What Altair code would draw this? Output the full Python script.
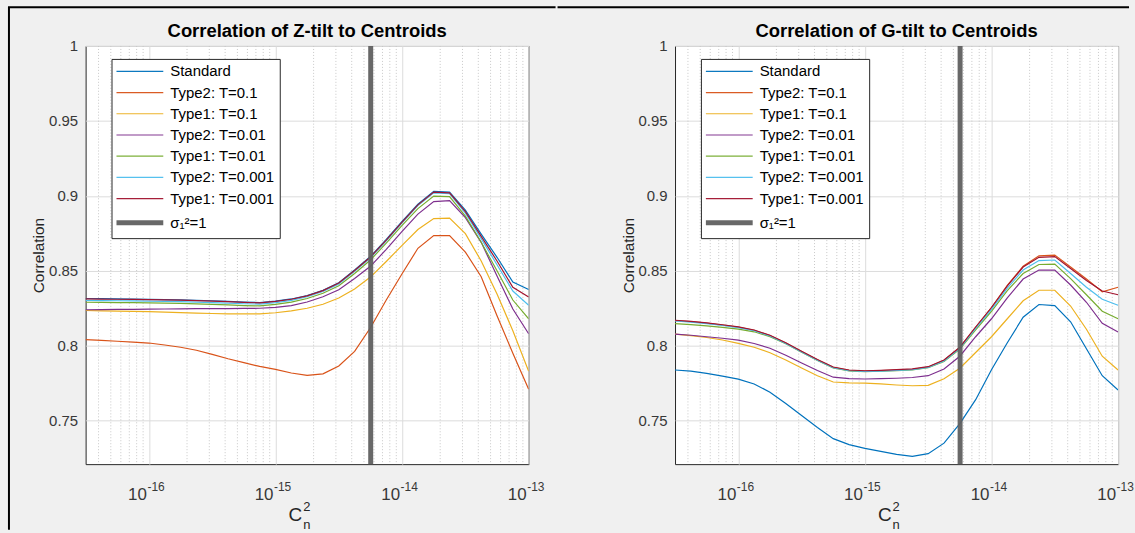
import altair as alt
import pandas as pd

# ---------------- data ----------------
log_cn2 = [-16.5, -16.375, -16.25, -16.125, -16.0, -15.875, -15.75, -15.625, -15.5,
           -15.375, -15.25, -15.125, -15.0, -14.875, -14.75, -14.625, -14.5, -14.375,
           -14.25, -14.125, -14.0, -13.875, -13.75, -13.625, -13.5, -13.375, -13.25,
           -13.125, -13.0]

series_names = ["Standard", "Type2: T=0.1", "Type1: T=0.1", "Type2: T=0.01",
                "Type1: T=0.01", "Type2: T=0.001", "Type1: T=0.001"]
sigma_label = "σ₁²=1"
series_colors = ["#0072BD", "#D95319", "#EDB120", "#7E2F8E", "#77AC30", "#4DBEEE", "#A2142F"]
sigma_color = "#606060"

# Z-tilt panel
z_standard = [0.8315,0.8314,0.8312,0.8311,0.8310,0.8308,0.8306,0.8303,0.8300,0.8296,0.8291,0.8288,0.8298,0.8312,0.8335,0.8370,0.8420,0.8505,0.8595,0.8710,0.8830,0.8945,0.9030,0.9025,0.8905,0.8745,0.8590,0.8425,0.8375]
z_t2_01 = [0.8041,0.8036,0.8030,0.8024,0.8018,0.8005,0.7990,0.7970,0.7942,0.7913,0.7887,0.7862,0.7842,0.7818,0.7802,0.7812,0.7865,0.7962,0.8120,0.8305,0.8480,0.8650,0.8735,0.8735,0.8625,0.8460,0.8200,0.7950,0.7710]
z_t1_01 = [0.8235,0.8233,0.8231,0.8229,0.8227,0.8224,0.8221,0.8218,0.8215,0.8213,0.8212,0.8213,0.8220,0.8232,0.8250,0.8277,0.8318,0.8378,0.8458,0.8562,0.8670,0.8775,0.8848,0.8852,0.8748,0.8565,0.8345,0.8100,0.7830]
z_t2_001 = [0.8240,0.8241,0.8242,0.8243,0.8244,0.8245,0.8246,0.8247,0.8248,0.8248,0.8249,0.8250,0.8256,0.8268,0.8292,0.8327,0.8373,0.8448,0.8530,0.8643,0.8763,0.8878,0.8962,0.8968,0.8855,0.8690,0.8465,0.8245,0.8080]
z_t1_001 = [0.8290,0.8289,0.8288,0.8287,0.8286,0.8284,0.8282,0.8279,0.8276,0.8272,0.8268,0.8266,0.8276,0.8291,0.8315,0.8350,0.8400,0.8482,0.8572,0.8685,0.8803,0.8915,0.8998,0.8995,0.8865,0.8690,0.8500,0.8305,0.8180]
z_t2_0001 = [0.8302,0.8301,0.8300,0.8299,0.8298,0.8296,0.8294,0.8291,0.8288,0.8284,0.8280,0.8278,0.8288,0.8303,0.8327,0.8362,0.8412,0.8496,0.8586,0.8700,0.8820,0.8935,0.9020,0.9015,0.8885,0.8715,0.8540,0.8365,0.8270]
z_t1_0001 = [0.8312,0.8311,0.8310,0.8309,0.8308,0.8306,0.8304,0.8301,0.8298,0.8294,0.8289,0.8286,0.8296,0.8310,0.8333,0.8368,0.8418,0.8502,0.8592,0.8705,0.8825,0.8940,0.9025,0.9020,0.8895,0.8730,0.8565,0.8390,0.8325]

# G-tilt panel
g_standard = [0.7838,0.7830,0.7815,0.7797,0.7777,0.7745,0.7690,0.7615,0.7535,0.7455,0.7380,0.7340,0.7315,0.7295,0.7275,0.7262,0.7280,0.7350,0.7480,0.7640,0.7840,0.8020,0.8190,0.8275,0.8268,0.8160,0.7980,0.7800,0.7705]
g_t2_01 = [0.8168,0.8161,0.8151,0.8138,0.8124,0.8103,0.8068,0.8018,0.7961,0.7906,0.7856,0.7836,0.7831,0.7834,0.7838,0.7843,0.7858,0.7903,0.7988,0.8123,0.8255,0.8402,0.8530,0.8600,0.8605,0.8525,0.8445,0.8360,0.8390]
g_t1_01 = [0.8077,0.8068,0.8055,0.8038,0.8016,0.7990,0.7953,0.7905,0.7852,0.7800,0.7758,0.7752,0.7750,0.7745,0.7738,0.7733,0.7736,0.7780,0.7850,0.7955,0.8060,0.8180,0.8300,0.8370,0.8370,0.8265,0.8110,0.7930,0.7838]
g_t2_001 = [0.8077,0.8070,0.8060,0.8050,0.8037,0.8015,0.7983,0.7937,0.7885,0.7835,0.7790,0.7780,0.7778,0.7780,0.7783,0.7788,0.7800,0.7845,0.7930,0.8060,0.8180,0.8320,0.8445,0.8505,0.8505,0.8405,0.8290,0.8150,0.8092]
g_t1_001 = [0.8147,0.8141,0.8133,0.8123,0.8111,0.8093,0.8061,0.8013,0.7957,0.7902,0.7852,0.7832,0.7827,0.7830,0.7834,0.7839,0.7853,0.7895,0.7977,0.8105,0.8230,0.8368,0.8482,0.8542,0.8545,0.8448,0.8340,0.8230,0.8180]
g_t2_0001 = [0.8165,0.8158,0.8148,0.8135,0.8121,0.8100,0.8065,0.8015,0.7958,0.7903,0.7853,0.7833,0.7828,0.7831,0.7835,0.7840,0.7855,0.7898,0.7982,0.8115,0.8243,0.8385,0.8505,0.8568,0.8572,0.8482,0.8390,0.8310,0.8270]
g_t1_0001 = [0.8170,0.8163,0.8153,0.8140,0.8126,0.8105,0.8070,0.8020,0.7963,0.7908,0.7858,0.7838,0.7833,0.7836,0.7840,0.7845,0.7860,0.7905,0.7990,0.8125,0.8255,0.8400,0.8525,0.8590,0.8595,0.8515,0.8435,0.8365,0.8340]

sigma_cn2 = [5.65e-15]

x_domain = [10 ** -16.5, 1e-13]
x_ticks = [1e-16, 1e-15, 1e-14, 1e-13]
x_tick_base = ["10", "10", "10", "10"]
x_tick_exp = ["-16", "-15", "-14", "-13"]
minor_ticks = [4e-17, 5e-17, 6e-17, 7e-17, 8e-17, 9e-17,
               2e-16, 3e-16, 4e-16, 5e-16, 6e-16, 7e-16, 8e-16, 9e-16,
               2e-15, 3e-15, 4e-15, 5e-15, 6e-15, 7e-15, 8e-15, 9e-15,
               2e-14, 3e-14, 4e-14, 5e-14, 6e-14, 7e-14, 8e-14, 9e-14]
y_domain = [0.721, 1.0]
y_ticks = [0.75, 0.8, 0.85, 0.9, 0.95, 1.0]

titles = ["Correlation of Z-tilt to Centroids", "Correlation of G-tilt to Centroids"]
x_title_parts = ["C", "2", "n"]
y_title = "Correlation"

# ---------------- build ----------------
FONT = "Liberation Sans"
W, H = 445, 420

def long_df(curves):
    rows = []
    for name, vals in zip(series_names, curves):
        for e, v in zip(log_cn2, vals):
            rows.append({"cn2": 10 ** e, "corr": v, "series": name})
    return pd.DataFrame(rows)

z_df = long_df([z_standard, z_t2_01, z_t1_01, z_t2_001, z_t1_001, z_t2_0001, z_t1_0001])
g_df = long_df([g_standard, g_t2_01, g_t1_01, g_t2_001, g_t1_001, g_t2_0001, g_t1_0001])

x_enc = alt.X("cn2:Q",
              scale=alt.Scale(type="log", domain=x_domain, nice=False),
              axis=alt.Axis(values=x_ticks, labels=False, title=None,
                            grid=True, gridColor="#dcdcdc", ticks=False, domain=False))
y_enc = alt.Y("corr:Q",
              scale=alt.Scale(domain=y_domain, nice=False, zero=False),
              axis=alt.Axis(values=y_ticks, format="~g", title=y_title,
                            grid=True, gridColor="#dcdcdc", ticks=False, domain=False,
                            labelFontSize=15, labelColor="#383838", labelPadding=8,
                            titleFontSize=15.5, titleFontWeight="normal", titleColor="#262626",
                            titlePadding=2, labelFont=FONT, titleFont=FONT))

legend = alt.Legend(orient="none", legendX=26, legendY=13, title=None,
                    symbolType="stroke", symbolSize=2209, labelFont=FONT,
                    labelFontSize=15, labelColor="#000000", fillColor="white",
                    strokeColor="#262626", padding=5, rowPadding=5.3,
                    symbolOffset=16, labelOffset=23,
                    symbolStrokeWidth=alt.ExprRef(
                        "datum.value === '%s' ? 5 : 1.2" % sigma_label))

domain_all = series_names + [sigma_label]
color_enc = alt.Color("series:N",
                      scale=alt.Scale(domain=domain_all, range=series_colors + [sigma_color]),
                      legend=legend)

minor_df = pd.DataFrame({"cn2": minor_ticks})
sigma_df = pd.DataFrame({"cn2": sigma_cn2, "series": [sigma_label]})
ticks_df = pd.DataFrame({"cn2": x_ticks, "base": x_tick_base, "exp": x_tick_exp})
one = pd.DataFrame({"a": [0]})


def panel(df, title, left):
    minor = alt.Chart(minor_df).mark_rule(color="#c8c8c8", strokeDash=[1, 2],
                                          strokeWidth=1).encode(x=x_enc)
    lines = alt.Chart(df).mark_line(clip=True, strokeWidth=1.2).encode(
        x=x_enc, y=y_enc, color=color_enc)
    sigma = alt.Chart(sigma_df).mark_rule(strokeWidth=5, opacity=0.95).encode(
        x=x_enc, color=color_enc)
    base_lbl = alt.Chart(ticks_df).mark_text(
        align="right", baseline="alphabetic", dx=-2, fontSize=17, color="#383838",
        font=FONT).encode(x=x_enc, y=alt.value(H + 36), text="base:N")
    exp_lbl = alt.Chart(ticks_df).mark_text(
        align="left", baseline="alphabetic", dx=-1.5, fontSize=12, color="#383838",
        font=FONT).encode(x=x_enc, y=alt.value(H + 27), text="exp:N")
    tdf = pd.DataFrame({"t": [title]})
    title_txt = alt.Chart(tdf).mark_text(
        align="center", baseline="alphabetic", fontSize=18.5, fontWeight="bold",
        color="#000000", font=FONT).encode(x=alt.value(W / 2), y=alt.value(-9), text="t:N")
    xdf = pd.DataFrame({"c": [x_title_parts[0]], "s": [x_title_parts[1]], "n": [x_title_parts[2]]})
    xt_c = alt.Chart(xdf).mark_text(align="right", baseline="alphabetic", fontSize=19,
                                    color="#262626", font=FONT).encode(
        x=alt.value(W / 2 - 5), y=alt.value(H + 57), text="c:N")
    xt_s = alt.Chart(xdf).mark_text(align="left", baseline="alphabetic", fontSize=13,
                                    color="#262626", font=FONT).encode(
        x=alt.value(W / 2 - 4), y=alt.value(H + 47), text="s:N")
    xt_n = alt.Chart(xdf).mark_text(align="left", baseline="alphabetic", fontSize=13,
                                    color="#262626", font=FONT).encode(
        x=alt.value(W / 2 - 4), y=alt.value(H + 65), text="n:N")
    layers = [minor, lines, sigma, base_lbl, exp_lbl, title_txt, xt_c, xt_s, xt_n]
    if left:
        layers.append(alt.Chart(one).mark_rule(color="black", strokeWidth=2).encode(
            x=alt.value(-77), y=alt.value(-39), y2=alt.value(486)))
        layers.append(alt.Chart(one).mark_rule(color="black", strokeWidth=2,
                                               strokeCap="square").encode(
            x=alt.value(-77), x2=alt.value(471), y=alt.value(-39)))
    else:
        layers.append(alt.Chart(one).mark_rule(color="black", strokeWidth=2,
                                               strokeCap="square").encode(
            x=alt.value(-117), x2=alt.value(455), y=alt.value(-39)))
    return alt.layer(*layers).properties(width=W, height=H)


chart = alt.hconcat(panel(z_df, titles[0], True), panel(g_df, titles[1], False), spacing=0)
chart = chart.resolve_scale(color="independent").resolve_legend(color="independent")
chart = chart.properties(
    padding={"left": 7, "top": 4, "right": 0, "bottom": 0},
    background="#f0f0f0",
).configure(font=FONT).configure_view(fill="white", stroke="#262626", strokeWidth=1)

chart.save("out.html", embed_options={"renderer": "svg", "actions": False})
